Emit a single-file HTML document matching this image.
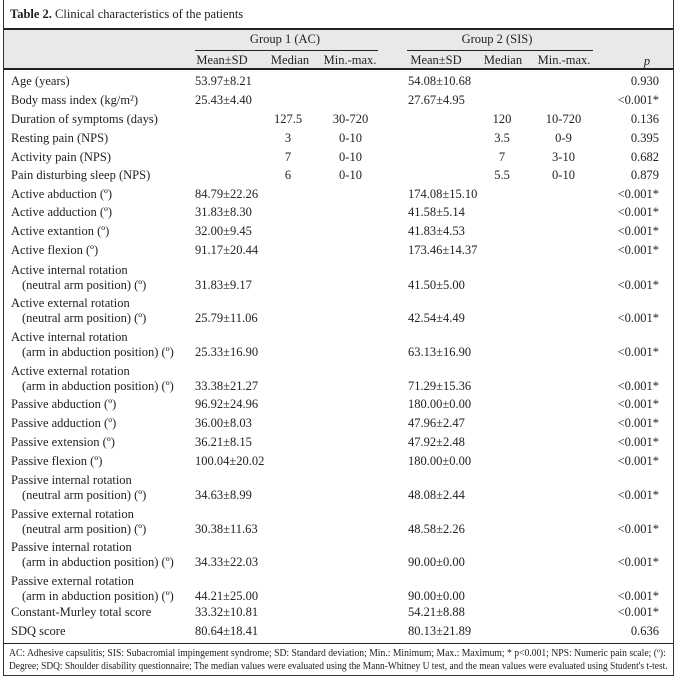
<!DOCTYPE html>
<html><head><meta charset="utf-8"><style>
body{margin:0;width:677px;height:677px;background:#fff;position:relative;font-family:"Liberation Serif",serif;font-size:12.5px;color:#222;overflow:hidden}
.b{position:absolute;left:3px;top:0;width:669px;height:675px;border:1px solid #333;border-top:none}
.t{position:absolute;white-space:nowrap;line-height:14px}
.r{text-align:right}
.c{text-align:center}
.hl{position:absolute;background:#222}
</style></head><body>
<div class="b"></div>
<div class="t" style="left:10px;top:7px;font-size:12.5px"><b>Table 2.</b> Clinical characteristics of the patients</div>
<div style="position:absolute;left:4px;top:29px;width:669px;height:39px;background:#e9e9e9"></div>
<div class="hl" style="left:4px;top:28px;width:669px;height:1.5px"></div>
<div class="hl" style="left:4px;top:68px;width:669px;height:1.5px"></div>
<div class="hl" style="left:195px;top:50px;width:183px;height:1px"></div>
<div class="hl" style="left:407px;top:50px;width:186px;height:1px"></div>
<div class="hl" style="left:4px;top:643px;width:669px;height:1px"></div>
<div class="t c" style="left:225px;width:120px;top:32px">Group 1 (AC)</div>
<div class="t c" style="left:437px;width:120px;top:32px">Group 2 (SIS)</div>
<div class="t c" style="left:182px;width:80px;top:53px">Mean±SD</div>
<div class="t c" style="left:260px;width:60px;top:53px">Median</div>
<div class="t c" style="left:320px;width:60px;top:53px">Min.-max.</div>
<div class="t c" style="left:396px;width:80px;top:53px">Mean±SD</div>
<div class="t c" style="left:473px;width:60px;top:53px">Median</div>
<div class="t c" style="left:534px;width:60px;top:53px">Min.-max.</div>
<div class="t c" style="left:637px;width:20px;top:54px"><i>p</i></div>
<div id="rows"></div>
<script>
var R=[
[74,"Age (years)","53.97±8.21","","","54.08±10.68","","","0.930"],
[93,"Body mass index (kg/m²)","25.43±4.40","","","27.67±4.95","","","<0.001*"],
[112,"Duration of symptoms (days)","","127.5","30-720","","120","10-720","0.136"],
[131,"Resting pain (NPS)","","3","0-10","","3.5","0-9","0.395"],
[150,"Activity pain (NPS)","","7","0-10","","7","3-10","0.682"],
[168,"Pain disturbing sleep (NPS)","","6","0-10","","5.5","0-10","0.879"],
[187,"Active abduction (º)","84.79±22.26","","","174.08±15.10","","","<0.001*"],
[205,"Active adduction (º)","31.83±8.30","","","41.58±5.14","","","<0.001*"],
[224,"Active extantion (º)","32.00±9.45","","","41.83±4.53","","","<0.001*"],
[243,"Active flexion (º)","91.17±20.44","","","173.46±14.37","","","<0.001*"],
[263,"Active internal rotation|(neutral arm position) (º)","31.83±9.17","","","41.50±5.00","","","<0.001*"],
[296,"Active external rotation|(neutral arm position) (º)","25.79±11.06","","","42.54±4.49","","","<0.001*"],
[330,"Active internal rotation|(arm in abduction position) (º)","25.33±16.90","","","63.13±16.90","","","<0.001*"],
[364,"Active external rotation|(arm in abduction position) (º)","33.38±21.27","","","71.29±15.36","","","<0.001*"],
[397,"Passive abduction (º)","96.92±24.96","","","180.00±0.00","","","<0.001*"],
[416,"Passive adduction (º)","36.00±8.03","","","47.96±2.47","","","<0.001*"],
[435,"Passive extension (º)","36.21±8.15","","","47.92±2.48","","","<0.001*"],
[454,"Passive flexion (º)","100.04±20.02","","","180.00±0.00","","","<0.001*"],
[473,"Passive internal rotation|(neutral arm position) (º)","34.63±8.99","","","48.08±2.44","","","<0.001*"],
[507,"Passive external rotation|(neutral arm position) (º)","30.38±11.63","","","48.58±2.26","","","<0.001*"],
[540,"Passive internal rotation|(arm in abduction position) (º)","34.33±22.03","","","90.00±0.00","","","<0.001*"],
[574,"Passive external rotation|(arm in abduction position) (º)","44.21±25.00","","","90.00±0.00","","","<0.001*"],
[605,"Constant-Murley total score","33.32±10.81","","","54.21±8.88","","","<0.001*"],
[624,"SDQ score","80.64±18.41","","","80.13±21.89","","","0.636"]];
var h="";
R.forEach(function(r){
 var y=r[0],two=r[1].indexOf("|")>=0,vy=two?y+15:y;
 if(two){var p=r[1].split("|");h+='<div class="t" style="left:11px;top:'+y+'px">'+p[0]+'</div><div class="t" style="left:22px;top:'+(y+15)+'px">'+p[1]+'</div>';}
 else h+='<div class="t" style="left:11px;top:'+y+'px">'+r[1]+'</div>';
 var e=function(s){return s.replace("<","&lt;")};
 h+='<div class="t" style="left:195px;top:'+vy+'px">'+r[2]+'</div>';
 h+='<div class="t c" style="left:263px;width:50px;top:'+vy+'px">'+r[3]+'</div>';
 h+='<div class="t c" style="left:323px;width:55px;top:'+vy+'px">'+r[4]+'</div>';
 h+='<div class="t" style="left:408px;top:'+vy+'px">'+r[5]+'</div>';
 h+='<div class="t c" style="left:477px;width:50px;top:'+vy+'px">'+r[6]+'</div>';
 h+='<div class="t c" style="left:536px;width:55px;top:'+vy+'px">'+r[7]+'</div>';
 h+='<div class="t r" style="left:590px;width:69px;top:'+vy+'px">'+e(r[8])+'</div>';
});
document.getElementById("rows").innerHTML=h;
</script>
<div class="t" style="left:9px;top:647px;font-size:10px;line-height:13px;transform:scaleX(.965);transform-origin:left center">AC: Adhesive capsulitis; SIS: Subacromial impingement syndrome; SD: Standard deviation; Min.: Minimum; Max.: Maximum; * p&lt;0.001; NPS: Numeric pain scale; (º):</div>
<div class="t" style="left:9px;top:660px;font-size:10px;line-height:13px;transform:scaleX(.94);transform-origin:left center">Degree; SDQ: Shoulder disability questionnaire; The median values were evaluated using the Mann-Whitney U test, and the mean values were evaluated using Student's t-test.</div>
</body></html>
